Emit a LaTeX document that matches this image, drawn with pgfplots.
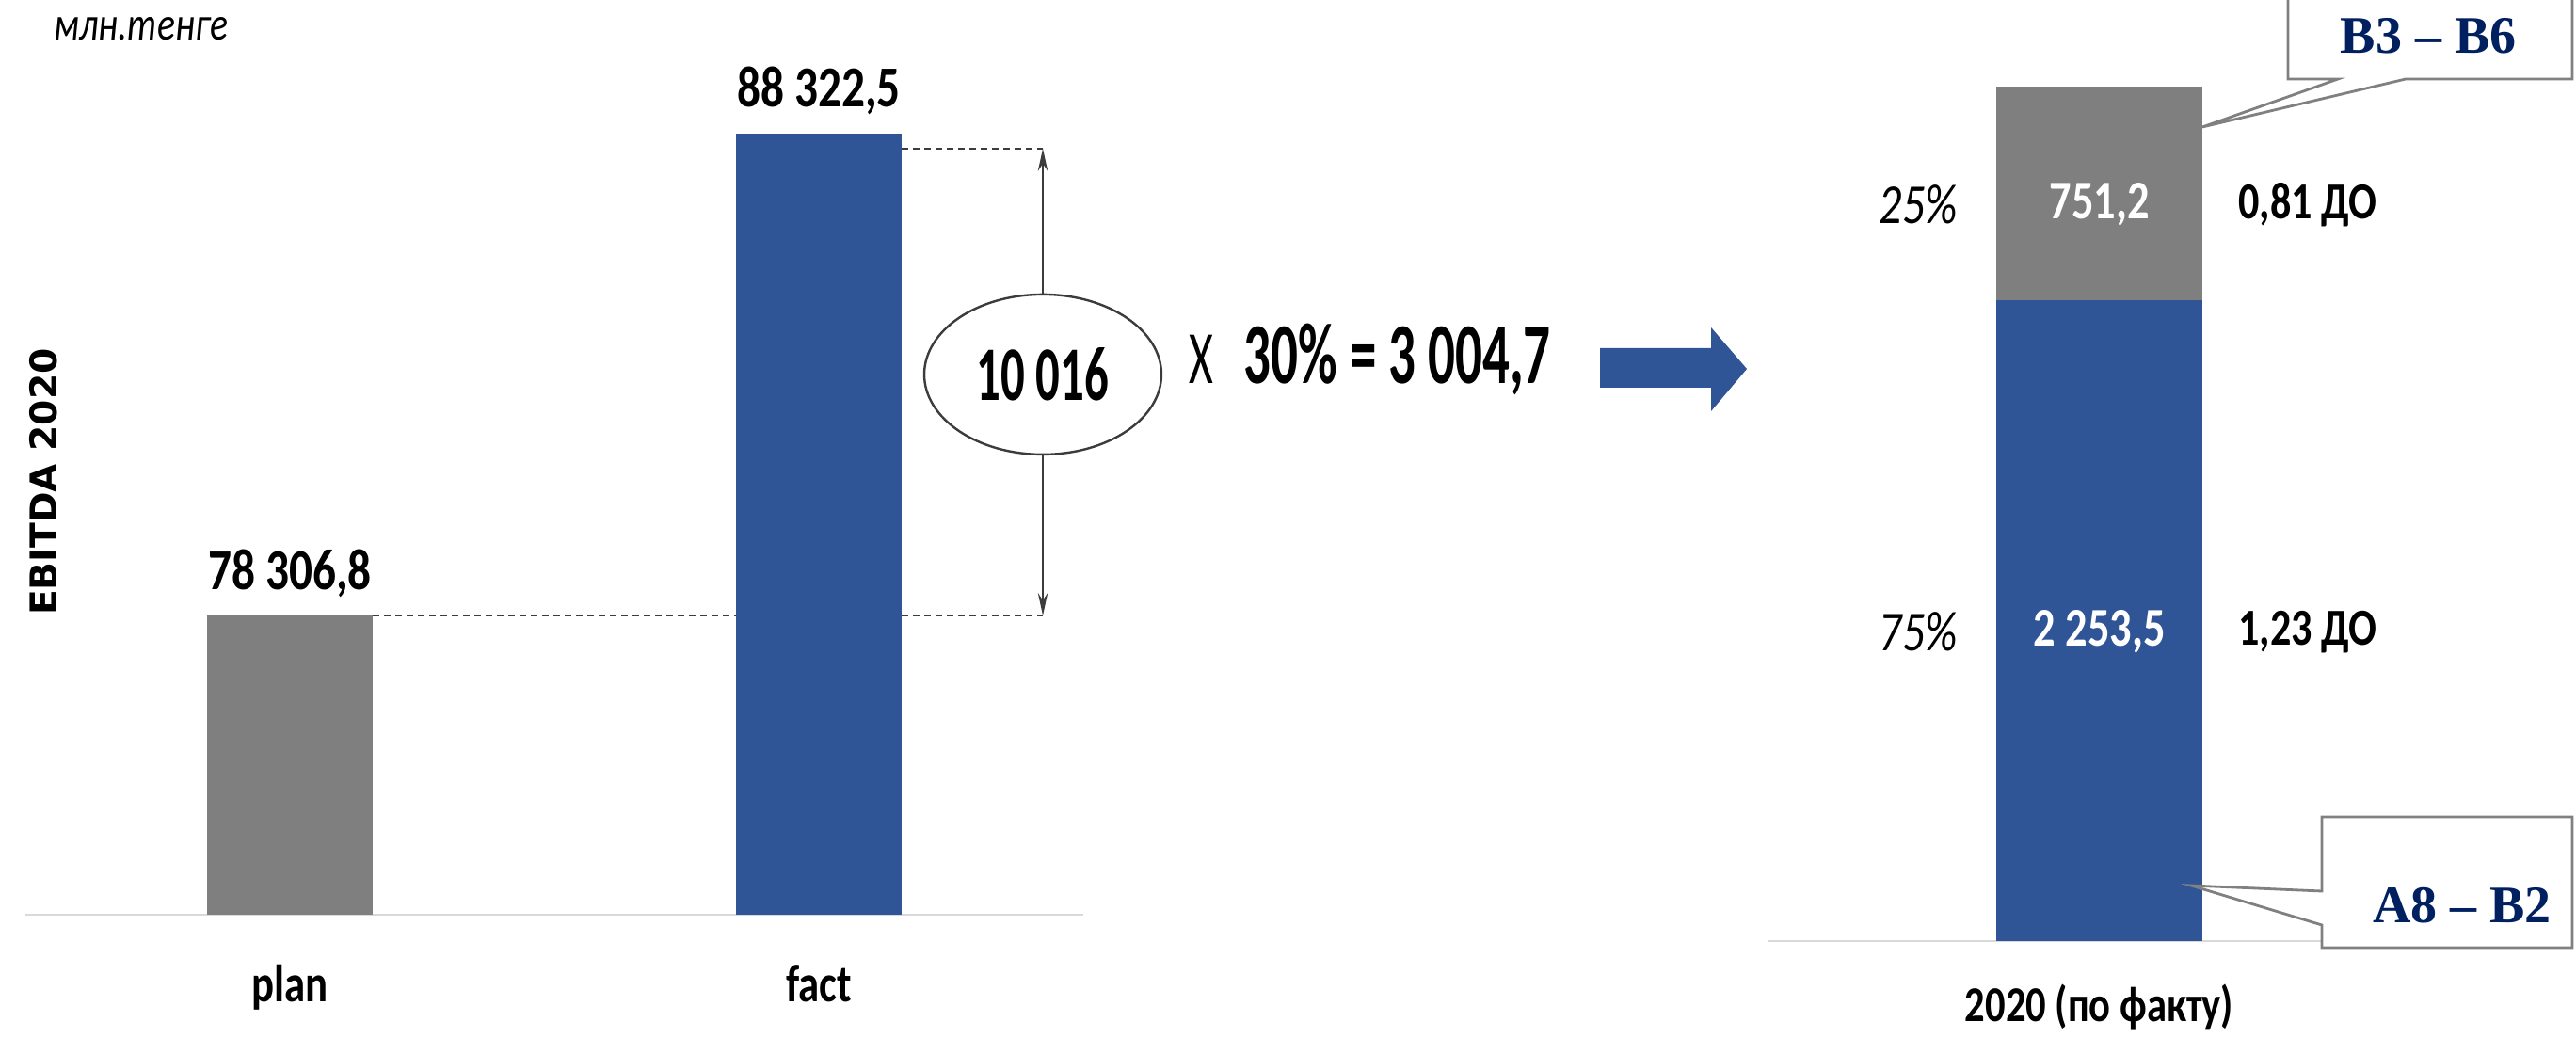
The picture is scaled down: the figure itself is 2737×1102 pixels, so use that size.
\documentclass[border=0pt]{standalone}
\usepackage{fontspec}
\usepackage{pgfplots}
\pgfplotsset{compat=1.18}
\usetikzlibrary{arrows.meta,shapes.geometric}
\setmainfont{Carlito}[FakeStretch=0.8]
\newfontfamily\narrow{Carlito}[FakeStretch=0.62]
\newfontfamily\dejavu{DejaVu Sans}
\newfontfamily\calloutfont{Liberation Serif}
\definecolor{barblue}{RGB}{47,85,151}
\definecolor{bargray}{RGB}{127,127,127}
\definecolor{navy}{RGB}{0,32,96}
\definecolor{basegray}{RGB}{217,217,217}
\definecolor{callgray}{RGB}{128,128,128}
\definecolor{linegray}{RGB}{60,60,60}

\newcommand\valfont{\fontsize{15.4}{17}\selectfont\bfseries}
\newcommand\tickfont{\fontsize{14}{16}\selectfont\bfseries}
\newcommand\segfont{\fontsize{14.5}{16}\selectfont\bfseries}
\newcommand\sidefont{\fontsize{13.8}{16}\selectfont\bfseries}
\newcommand\pctfont{\fontsize{15}{17}\selectfont\itshape}

\begin{document}
\begin{tikzpicture}[x=0.25pt,y=0.25pt]
\path[use as bounding box] (0,0) rectangle (2737,1102);
\coordinate (leftorigin) at (27,130);
\coordinate (rightorigin) at (1878,102);

% unit caption and vertical title
\node[anchor=west, inner sep=0, font=\itshape\fontsize{12.4}{14}\selectfont] at (57,1071) {млн.тенге};
\node[rotate=90, inner sep=0, font=\dejavu\bfseries\fontsize{9.8}{12}\selectfont] at (46,590) {EBITDA 2020};

% ---------------- plan vs fact ----------------
\begin{axis}[
  at={(leftorigin)}, anchor=south west,
  scale only axis, width=281pt, height=229pt,
  xmin=-0.5, xmax=1.5, ymin=72090, ymax=90000,
  axis y line=none, axis x line*=bottom,
  x axis line style={draw=basegray, line width=0.7pt, -},
  xtick={0,1}, xticklabels={plan,fact},
  major tick length=0pt, ytick=\empty,
  xticklabel style={anchor=base, yshift=-23pt, font=\tickfont},
  ybar, bar width=44pt, bar shift=0pt,
  clip mode=individual,
]
\addplot[fill=bargray, draw=none] coordinates {(0,78306.8)};
\addplot[fill=barblue, draw=none] coordinates {(1,88322.5)};

% value labels
\node[anchor=base, yshift=7pt, font=\valfont] at (axis cs:0,78306.8) {78 306,8};
\node[anchor=base, yshift=7pt, font=\valfont] at (axis cs:1,88322.5) {88 322,5};

% guide lines from the bar tops to the difference arrow
\draw[linegray, line width=0.5pt, dash pattern=on 1.8pt off 1.2pt]
  ([xshift=22pt]axis cs:0,78306.8) -- ([xshift=-22pt]axis cs:1,78306.8);
\draw[linegray, line width=0.5pt, dash pattern=on 1.8pt off 1.2pt]
  ([xshift=22pt]axis cs:1,78306.8) -- (axis cs:1.4235,78306.8);
\draw[linegray, line width=0.5pt, dash pattern=on 1.8pt off 1.2pt]
  ([xshift=22pt,yshift=-4pt]axis cs:1,88322.5) -- ([yshift=-4pt]axis cs:1.4235,88322.5);
\draw[linegray, line width=0.5pt, {Stealth[length=6pt,width=2.6pt]}-{Stealth[length=6pt,width=2.6pt]}]
  ([yshift=-4pt]axis cs:1.4235,88322.5) -- (axis cs:1.4235,78306.8);

% difference and bonus pool
\node[ellipse, draw=linegray, line width=0.6pt, fill=white, minimum width=63pt, minimum height=42.5pt, inner sep=0,
      font=\narrow\fontsize{20.5}{22}\selectfont\bfseries] at (axis cs:1.4235,83314.65) {10 016};
\node[anchor=mid, inner sep=0, font=\narrow\fontsize{20}{22}\selectfont] at ([xshift=42pt]axis cs:1.4235,83314.65) {X};
\node[anchor=mid west, inner sep=0, font=\narrow\fontsize{23}{25}\selectfont\bfseries] at ([xshift=53.25pt]axis cs:1.4235,83314.65) {30\% = 3 004,7};
\end{axis}

% block arrow
\fill[barblue] (1700,690) -- (1818,690) -- (1818,665) -- (1856,710) -- (1818,754) -- (1818,732) -- (1700,732) -- cycle;

% ---------------- split of the pool ----------------
\begin{axis}[
  at={(rightorigin)}, anchor=south west,
  scale only axis, width=176.25pt, height=249.3pt,
  xmin=-0.5, xmax=0.5, ymin=0, ymax=3300,
  axis y line=none, axis x line*=bottom,
  x axis line style={draw=basegray, line width=0.7pt, -},
  xtick={0}, xticklabels={2020 (по факту)},
  major tick length=0pt, ytick=\empty,
  xticklabel style={anchor=base, yshift=-21.5pt, font=\fontsize{13.3}{15}\selectfont\bfseries},
  ybar stacked, bar width=54.75pt,
  clip mode=individual,
]
\addplot[fill=barblue, draw=none] coordinates {(0,2253.5)};
\addplot[fill=bargray, draw=none] coordinates {(0,751.2)};
% middles of the two stacked segments
\coordinate (lowmid) at (axis cs:0,1126.75);
\coordinate (highmid) at (axis cs:0,2629.1);
\end{axis}

% segment labels, set on top of the stacked bar
\node[white, font=\segfont, yshift=-3pt] at (lowmid) {2 253,5};
\node[white, font=\segfont, yshift=-3pt] at (highmid) {751,2};
\node[anchor=east, inner sep=0, font=\pctfont, xshift=-37.5pt, yshift=-3pt] at (lowmid) {75\%};
\node[anchor=east, inner sep=0, font=\pctfont, xshift=-37.5pt, yshift=-3pt] at (highmid) {25\%};
\node[anchor=west, inner sep=0, font=\sidefont, xshift=36.75pt, yshift=-3pt] at (lowmid) {1,23 ДО};
\node[anchor=west, inner sep=0, font=\sidefont, xshift=36.75pt, yshift=-3pt] at (highmid) {0,81 ДО};

% callouts
\draw[callgray, line width=0.7pt, fill=white]
  (2431,1110) -- (2431,1018) -- (2484,1018) -- (2340,967) -- (2556,1018) -- (2733,1018) -- (2733,1110);
\node[navy, font=\calloutfont\bfseries\fontsize{14}{16}\selectfont] at (2580,1064) {B3 – B6};

\draw[callgray, line width=0.7pt, fill=white]
  (2467,234) -- (2733,234) -- (2733,95) -- (2467,95) -- (2467,119) -- (2328,161) -- (2467,155) -- cycle;
\node[navy, font=\calloutfont\bfseries\fontsize{14}{16}\selectfont] at (2616,140) {A8 – B2};
\end{tikzpicture}
\end{document}
